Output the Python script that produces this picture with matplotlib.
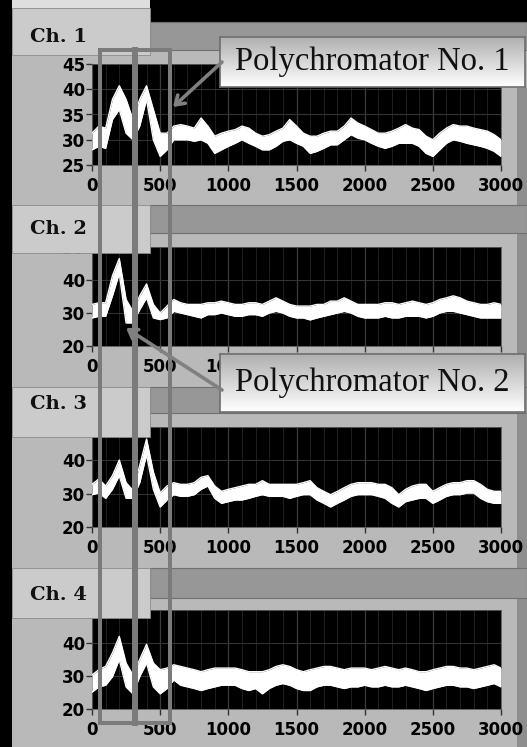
import numpy as np
import matplotlib
matplotlib.use("Agg")
import matplotlib.pyplot as plt
import matplotlib.transforms as mtransforms
from matplotlib.patches import Rectangle, FancyArrowPatch

W, H = 527, 747

# sample positions (every 50 points) of the traces
t = list(range(0, 3001, 50))

# upper / lower edge of the noisy white trace, per channel
ch1_hi = [31.3, 32.7, 32.3, 38.0, 40.7, 38.0, 34.0, 38.0, 40.7, 36.0, 31.3,
          31.3, 32.7, 33.0, 32.7, 32.3, 34.3, 32.7, 30.7, 31.3, 31.7,
          32.0, 32.7, 32.3, 31.3, 30.7, 31.0, 31.7, 32.3, 34.0, 32.7,
          31.3, 30.7, 30.7, 31.3, 31.7, 31.7, 32.7, 34.3, 33.3, 32.7,
          32.0, 31.3, 31.3, 31.7, 32.3, 33.0, 32.3, 32.0, 30.7, 30.0,
          31.3, 32.3, 33.0, 32.7, 32.7, 32.3, 32.0, 31.7, 31.0, 30.0]
ch1_lo = [28.0, 28.7, 28.3, 34.0, 36.0, 31.3, 30.0, 32.7, 38.0, 30.0, 26.7,
          28.0, 30.0, 30.0, 30.0, 29.7, 30.0, 29.3, 27.3, 28.0, 28.7,
          29.3, 30.0, 29.3, 28.7, 28.0, 28.0, 28.7, 29.7, 30.0, 29.3,
          28.7, 27.3, 27.7, 28.3, 29.0, 29.0, 30.0, 31.0, 30.3, 30.0,
          29.3, 28.7, 28.3, 28.7, 29.3, 29.3, 29.3, 28.7, 27.3, 26.7,
          28.0, 29.3, 30.0, 29.7, 29.3, 29.0, 28.7, 28.3, 27.7, 26.7]

ch2_hi = [32.6, 33.1, 33.1, 41.3, 46.5, 34.1, 30.5, 35.2, 38.8, 32.6, 30.0,
          32.1, 34.1, 33.1, 32.6, 32.6, 32.6, 33.1, 33.1, 33.6, 33.1,
          32.6, 32.6, 33.1, 33.1, 32.6, 33.6, 34.6, 33.6, 32.6, 32.1,
          32.1, 32.1, 32.6, 32.6, 33.6, 33.6, 34.6, 33.6, 32.6, 32.6,
          32.6, 32.6, 33.1, 33.1, 32.6, 33.1, 33.6, 33.1, 32.6, 33.1,
          34.1, 34.6, 35.2, 34.6, 33.6, 33.1, 32.6, 32.6, 33.1, 32.6]
ch2_lo = [28.5, 29.0, 29.0, 35.2, 42.0, 27.0, 27.0, 31.0, 34.6, 28.5, 28.0,
          28.5, 30.5, 30.0, 29.5, 29.0, 28.5, 29.5, 29.5, 30.0, 29.5,
          29.0, 29.0, 29.5, 29.5, 29.0, 30.0, 30.5, 30.0, 29.0, 28.5,
          28.5, 27.9, 28.5, 29.0, 29.5, 30.0, 30.5, 30.0, 29.0, 28.5,
          28.5, 28.5, 29.0, 28.5, 28.5, 29.0, 29.0, 29.0, 28.5, 29.0,
          30.0, 30.5, 30.5, 30.0, 29.5, 29.0, 28.5, 28.5, 28.5, 28.5]

ch3_hi = [32.8, 34.4, 32.3, 35.4, 40.1, 33.3, 31.0, 38.5, 46.4, 36.5, 30.2,
          32.3, 33.3, 32.8, 32.8, 33.3, 34.9, 35.4, 32.3, 30.7, 31.3,
          31.8, 32.3, 32.8, 32.8, 33.9, 32.8, 32.8, 32.8, 32.8, 32.8,
          33.3, 33.9, 31.8, 30.7, 29.7, 30.7, 31.8, 32.8, 33.3, 33.3,
          33.3, 32.8, 32.8, 31.8, 29.7, 31.3, 32.3, 32.8, 32.8, 30.7,
          31.8, 32.8, 33.3, 33.3, 33.9, 33.9, 32.8, 31.3, 30.7, 30.7]
ch3_lo = [29.7, 30.2, 28.6, 31.3, 35.4, 28.6, 28.6, 33.3, 41.7, 31.3, 26.0,
          28.1, 29.7, 29.2, 29.2, 29.7, 31.3, 32.3, 28.6, 27.1, 27.6,
          28.1, 28.1, 28.6, 29.2, 29.7, 29.2, 29.2, 29.2, 28.6, 29.2,
          29.7, 29.7, 28.1, 27.1, 26.0, 27.1, 28.1, 29.2, 29.7, 29.7,
          29.7, 29.2, 28.6, 27.1, 26.0, 27.6, 28.1, 28.6, 28.6, 27.1,
          28.1, 29.2, 29.7, 29.7, 30.2, 30.2, 28.6, 27.6, 27.1, 27.1]

ch4_hi = [30.3, 31.9, 32.9, 37.0, 42.0, 33.9, 30.3, 35.0, 39.6, 33.9, 31.9,
          32.4, 33.4, 32.9, 32.4, 31.9, 31.3, 31.9, 32.4, 32.4, 32.4,
          32.4, 31.9, 31.3, 31.3, 31.3, 31.9, 32.9, 33.4, 32.9, 31.9,
          31.3, 31.9, 32.4, 32.9, 32.9, 32.4, 31.9, 32.4, 32.4, 32.4,
          31.9, 32.4, 32.9, 32.4, 31.9, 32.4, 31.9, 31.3, 31.3, 31.9,
          32.4, 32.9, 32.9, 32.4, 32.4, 31.9, 32.4, 32.9, 33.4, 32.4]
ch4_lo = [25.1, 26.7, 27.2, 29.8, 35.0, 26.7, 24.6, 29.8, 33.9, 26.7, 24.6,
          26.2, 28.8, 27.2, 26.7, 26.2, 25.6, 26.2, 26.7, 27.2, 27.2,
          27.2, 26.2, 25.6, 26.2, 24.6, 26.2, 27.2, 27.7, 27.2, 26.2,
          25.6, 25.6, 26.7, 27.2, 27.2, 26.7, 26.2, 26.7, 26.7, 27.2,
          26.7, 26.7, 27.2, 26.7, 26.7, 27.2, 26.7, 26.2, 25.6, 26.2,
          26.7, 27.2, 27.2, 26.7, 26.7, 26.2, 26.7, 27.2, 27.7, 26.7]

channels = ["Ch. 1", "Ch. 2", "Ch. 3", "Ch. 4"]
his = [ch1_hi, ch2_hi, ch3_hi, ch4_hi]
los = [ch1_lo, ch2_lo, ch3_lo, ch4_lo]
ylims = [(25, 45), (20, 50), (20, 50), (20, 50)]
yticks = [[25, 30, 35, 40, 45], [20, 30, 40, 50], [20, 30, 40, 50], [20, 30, 40, 50]]
xticks = [0, 500, 1000, 1500, 2000, 2500, 3000]
xlabels = ["0", "500", "1000", "1500", "2000", "2500", "3000"]

# layout in screen pixels (y down)
plot_rows = [(64, 165), (247, 346), (427, 527), (610, 709)]
tab_rows = [(8, 55), (205, 253), (387, 437), (568, 618)]
bar_rows = [(22, 50), (205, 233), (387, 413), (568, 598)]
label_y = [37, 229, 404, 595]

BG = "#b9b9b9"
TAB = "#cbcbcb"
BAR = "#979797"
EDGE = "#7b7b7b"

fig = plt.figure(figsize=(W / 100, H / 100), dpi=100)
fig.patch.set_facecolor(BG)
px = mtransforms.Affine2D().scale(1 / W, -1 / H).translate(0, 1) + fig.transFigure


def box(x0, y0, x1, y1, z, **kw):
    r = Rectangle((x0, y0), x1 - x0, y1 - y0, transform=px, zorder=z, **kw)
    fig.add_artist(r)
    return r


def rect_px(x0, y0, x1, y1):
    return [x0 / W, 1 - y1 / H, (x1 - x0) / W, (y1 - y0) / H]


# background pieces
box(0, 0, 12, H, -2, facecolor="black", lw=0)
box(150, 0, W, 22, -2, facecolor="black", lw=0)
box(12, 0, 150, 8, -2, facecolor="#dedede", lw=0)
box(517, 88, W, H, -2, facecolor="#8e8e8e", lw=0)

for i, name in enumerate(channels):
    b0, b1 = bar_rows[i]
    box(150, b0, W, b1, -1, facecolor=BAR, edgecolor="#707070", lw=0.8)
    tb0, tb1 = tab_rows[i]
    box(12, tb0, 150, tb1, 1, facecolor=TAB, edgecolor="#8a8a8a", lw=0.6)
    fig.text(30 / W, 1 - label_y[i] / H, name, family="DejaVu Serif",
             fontweight="bold", fontsize=14, va="center", ha="left",
             color="#111111", zorder=1.5)

    y0, y1 = plot_rows[i]
    ax = fig.add_axes(rect_px(92, y0, 501, y1))
    ax.set_facecolor("black")
    ax.fill_between(t, los[i], his[i], color="white", lw=0, zorder=3)
    ax.plot(t, his[i], color="white", lw=1.0, zorder=3)
    ax.plot(t, los[i], color="white", lw=1.0, zorder=3)
    ax.set_xlim(0, 3000)
    ax.set_ylim(*ylims[i])
    ax.set_xticks(xticks)
    if i == 1:
        # the lower callout box hides most of this row of labels
        ax.set_xticklabels(xlabels[:3] + [""] * 4)
    else:
        ax.set_xticklabels(xlabels)
    ax.set_yticks(yticks[i])
    ax.set_xticks(range(0, 3001, 100), minor=True)
    ax.grid(which="minor", axis="x", color="#1f1f1f", lw=0.7)
    ax.grid(which="major", axis="x", color="#3c3c3c", lw=0.9)
    ax.grid(which="major", axis="y", color="#333333", lw=0.8)
    ax.tick_params(which="minor", length=0)
    ax.tick_params(axis="x", length=4.5, width=1.0, pad=4, color="#333333",
                   labelsize=12)
    ax.tick_params(axis="y", length=4, width=1.0, pad=1, color="#333333",
                   labelsize=12)
    for lab in ax.get_xticklabels() + ax.get_yticklabels():
        lab.set_fontweight("bold")
    for s in ax.spines.values():
        s.set_color("#555555")
        s.set_linewidth(0.6)

# marked time windows: outer frame plus the shared middle edge
box(100, 50, 170, 723, 3, fill=False, edgecolor=EDGE, lw=2.9)
fig.add_artist(plt.Line2D([135, 135], [50, 723], transform=px, color=EDGE,
                          lw=4.3, zorder=3))

# callout boxes
grad = np.linspace(0, 1, 64).reshape(-1, 1)
callouts = [("Polychromator No. 1", (220, 37, 525, 87)),
            ("Polychromator No. 2", (220, 354, 525, 412))]
for txt, (x0, y0, x1, y1) in callouts:
    cax = fig.add_axes(rect_px(x0, y0, x1, y1), zorder=2)
    cax.imshow(grad, cmap="gray", vmin=-2.2, vmax=1.0, aspect="auto",
               extent=(0, 1, 0, 1), origin="upper")
    cax.set_xticks([])
    cax.set_yticks([])
    for s in cax.spines.values():
        s.set_color("#6e6e6e")
        s.set_linewidth(1.2)
    cax.text(0.5, 0.5, txt, transform=cax.transAxes, ha="center", va="center",
             family="Liberation Serif", fontsize=23.5, color="#111111")

# arrows pointing at the windows
for tail, tip in [((222, 62), (173, 107)), ((222, 390), (126, 328))]:
    arr = FancyArrowPatch(tail, tip, transform=px,
                          arrowstyle="->,head_length=6,head_width=4",
                          color="#808080", lw=2.6, zorder=4,
                          shrinkA=0, shrinkB=0)
    fig.add_artist(arr)

fig.savefig("out.png", dpi=100, facecolor=fig.get_facecolor())
